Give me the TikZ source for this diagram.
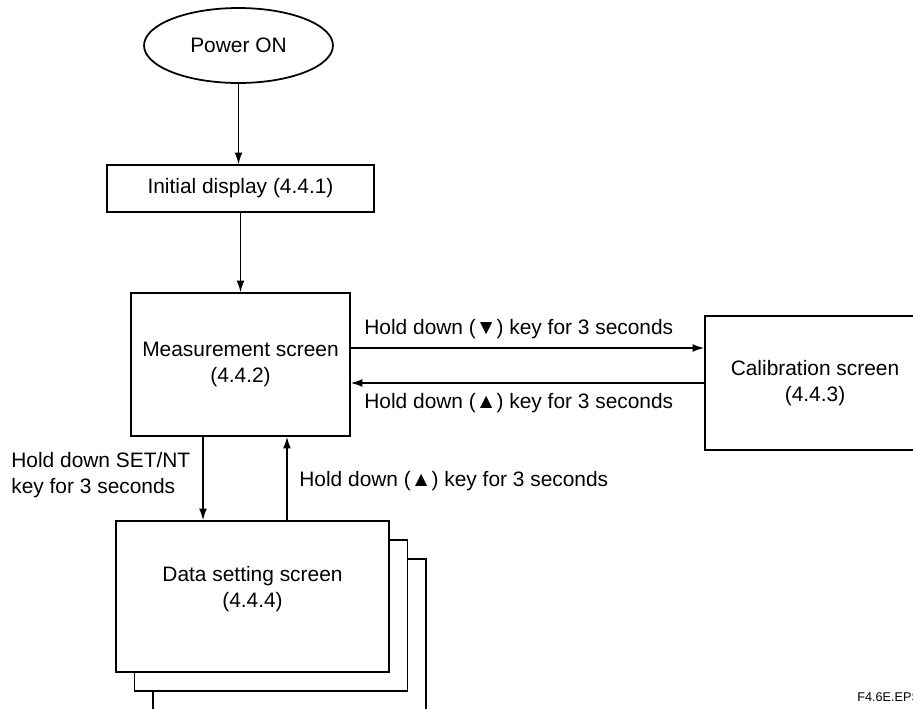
\documentclass[tikz,border=0pt]{standalone}
\usepackage{fontspec}
\setmainfont{Liberation Sans}
\usetikzlibrary{shapes.geometric,arrows.meta}
\tikzset{
  box/.style={draw, line width=1pt, fill=white, inner sep=0pt, align=center},
  arr/.style={-{Latex[length=6.5pt,width=4.4pt]}, line width=0.7pt},
  lbl/.style={inner sep=0pt, anchor=west, align=left}
}
\begin{document}
\begin{tikzpicture}[x=0.02cm, y=-0.02cm, font=\fontsize{11.9}{15}\selectfont]
\clip (0,0) rectangle (913,708);
\node[ellipse, draw, line width=1pt, inner sep=0pt, minimum width=3.78cm, minimum height=1.5cm] (power) at (238.5,45.5) {Power ON};
\node[box, minimum width=5.34cm, minimum height=0.94cm] (init) at (240.5,188.5) {Initial display (4.4.1)};
\node[box, minimum width=4.38cm, minimum height=2.86cm] (meas) at (240.5,364.5) {Measurement screen\\(4.4.2)};
\node[box, minimum width=4.4cm, minimum height=2.68cm] (calib) at (815,383) {Calibration screen\\(4.4.3)};
\node[box, minimum width=5.46cm, minimum height=3.02cm] (data3) at (289.5,634.5) {};
\node[box, minimum width=5.46cm, minimum height=3.02cm] (data2) at (271,615.5) {};
\node[box, minimum width=5.46cm, minimum height=3.02cm] (data1) at (252.5,596.5) {Data setting screen\\(4.4.4)\\[-0.6ex]};

\draw[arr] (power.south) -- (power.south |- init.north);
\draw[arr] (init.south) -- (init.south |- meas.north);
\draw[arr] ([yshift=0.33cm]meas.east) -- ([yshift=0.33cm]meas.east -| calib.west);
\draw[arr] (calib.west) -- (calib.west -| meas.east);
\draw[arr] ([xshift=-0.75cm]meas.south) -- ([xshift=-0.75cm]meas.south |- data1.north);
\draw[arr] ([xshift=0.93cm]meas.south |- data1.north) -- ([xshift=0.93cm]meas.south);

\node[lbl] (keydown) at (364,329) {Hold down (▼) key for 3 seconds};
\node[lbl] (keyup) at (364,403) {Hold down (▲) key for 3 seconds};
\node[lbl] (keyset) at (11,475) {Hold down SET/NT\\key for 3 seconds};
\node[lbl] (keyback) at (299,481) {Hold down (▲) key for 3 seconds};
\node[lbl, font=\fontsize{7.2}{9}\selectfont] (fig) at (857,697) {F4.6E.EPS};
\end{tikzpicture}
\end{document}
